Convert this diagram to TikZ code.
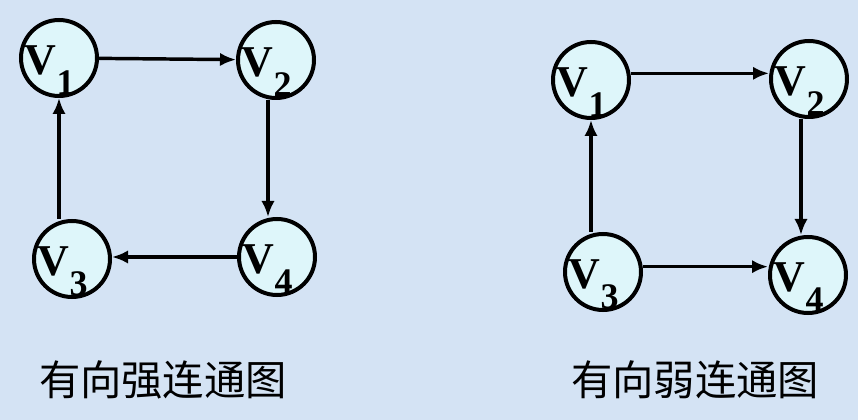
\documentclass[tikz,border=0pt]{standalone}
\usepackage{fontspec}
\setmainfont{Liberation Serif}
\newfontfamily\cjk{Noto Sans CJK SC}
\usepackage{tikz}
\usetikzlibrary{positioning}
\usetikzlibrary{arrows.meta}
\definecolor{color-back}{RGB}{212,227,244}
\definecolor{color-vert}{RGB}{222,246,250}
\newcommand{\vname}[1]{\fontsize{33}{33}\selectfont\bfseries V\raisebox{-15pt}{\fontsize{27}{27}\selectfont #1}}

\begin{document}
\begin{tikzpicture}[x=0.75pt, y=-0.75pt, >={Latex[length=12pt,width=10pt]},
vert/.style={circle,draw,line width=3pt,fill=color-vert,minimum size=57pt,inner sep=0pt,
  label={[xshift=-7pt,yshift=-9pt]center:{\vname{#1}}}},
edge/.style={->,line width=2.6pt},
caption/.style={font=\cjk\fontsize{31}{31}\selectfont}]
% background
\fill[color-back] (0,0) rectangle (858,420);

% strongly connected
\node [vert=1] (a1) at (59,58) {};
\node [vert=2] (a2) at (276,60) {};
\node [vert=3] (a3) at (72,259) {};
\node [vert=4] (a4) at (277,257) {};
\draw[edge] (a1) -- (a2);
\draw[edge] ([xshift=-6pt]a2.south) -- ([xshift=-6pt]a2.south |- a4.north);
\draw[edge] (a4) -- (a4 -| a3.east);
\draw[edge] (a1 |- a3.north) -- (a1.south);
\node [caption] (capa) at (163,380) {有向强连通图};

% weakly connected
\node [vert=1] (b1) at (591,80) {};
\node [vert=2] (b2) at (809,79) {};
\node [vert=3] (b3) at (603,272) {};
\node [vert=4] (b4) at (808,275) {};
\draw[edge] ([yshift=5pt]b1.east) -- ([yshift=5pt]b1.east -| b2.west);
\draw[edge] ([xshift=-6pt]b2.south) -- ([xshift=-6pt]b2.south |- b4.north);
\draw[edge] (b1 |- b3.north) -- (b1.south);
\draw[edge] ([yshift=4pt]b3.east) -- ([yshift=4pt]b3.east -| b4.west);
\node [caption] (capb) at (695,380) {有向弱连通图};
\end{tikzpicture}
\end{document}
